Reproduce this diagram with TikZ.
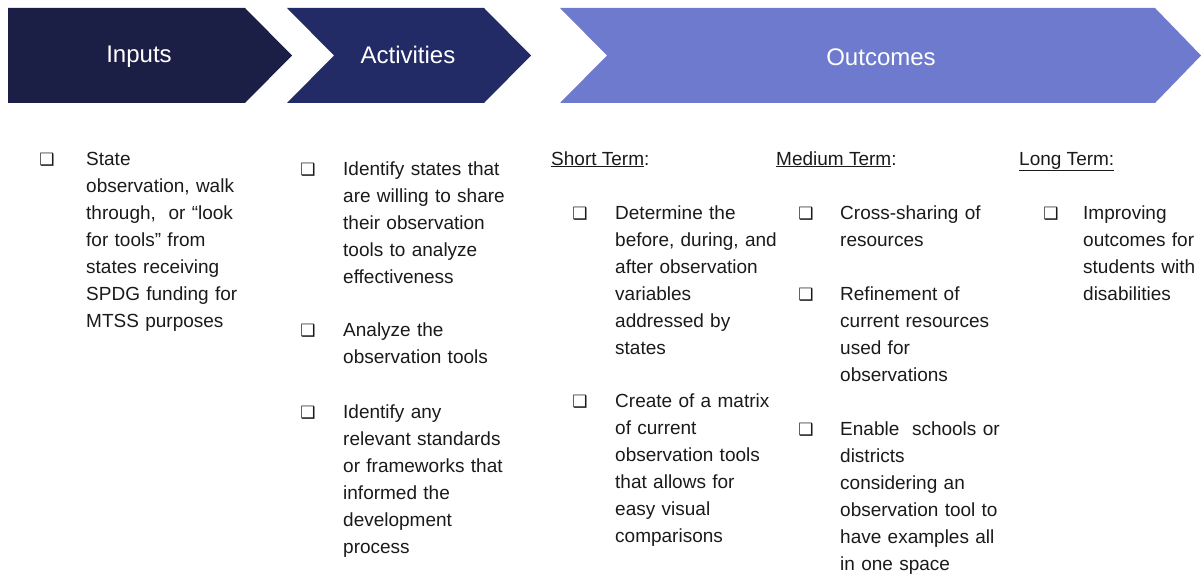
\documentclass[tikz,border=0pt]{standalone}
\usepackage{fontspec}
\setmainfont{Liberation Sans}
\newfontfamily\symfont{DejaVu Sans}
\usetikzlibrary{shapes}

\definecolor{inputcol}{RGB}{27,30,69}
\definecolor{actcol}{RGB}{35,43,102}
\definecolor{outcol}{RGB}{109,122,206}
\definecolor{inkcol}{RGB}{26,26,26}

\newcommand\titlefont{\fontsize{24}{28}\selectfont}
\newcommand\itemfont{\fontsize{19}{27}\selectfont}

\tikzstyle{head} = [text=white, font=\titlefont, inner sep=0pt]
\tikzstyle{item} = [anchor=base west, inner sep=0pt, text width=190pt, align=left, text=inkcol, font=\itemfont]
\tikzstyle{term} = [anchor=base west, inner sep=0pt, text=inkcol, font=\itemfont]
\tikzstyle{tick} = [anchor=base, inner sep=0pt, text=inkcol, font=\symfont\fontsize{17}{19}\selectfont]

\begin{document}
\begin{tikzpicture}[x=1pt,y=-1pt]
  \useasboundingbox (0,0) rectangle (1201,575);

  % chevrons along the top
  \fill[inputcol] (8,8) -- (245,8) -- (292,55.5) -- (245,103) -- (8,103) -- cycle;
  \fill[actcol] (287,8) -- (484,8) -- (531,55.5) -- (484,103) -- (287,103) -- (334,55.5) -- cycle;
  \fill[outcol] (560,8) -- (1155,8) -- (1201,55.5) -- (1155,103) -- (560,103) -- (607,55.5) -- cycle;
  \node[head] (inputs) at (139,57) {Inputs};
  \node[head] (activities) at (408,55) {Activities};
  \node[head] (outcomes) at (881,57) {Outcomes};

  % inputs
  \node[tick] (tin1) at (47,165) {❑};
  \node[item] (in1) at (86,165) {State\\observation, walk\\through,\ \ or “look\\for tools” from\\states receiving\\SPDG funding for\\MTSS purposes};

  % activities
  \node[tick] (tact1) at (308,175) {❑};
  \node[item] (act1) at (343,175) {Identify states that\\are willing to share\\their observation\\tools to analyze\\effectiveness};
  \node[tick] (tact2) at (308,336) {❑};
  \node[item] (act2) at (343,336) {Analyze the\\observation tools};
  \node[tick] (tact3) at (308,418) {❑};
  \node[item] (act3) at (343,418) {Identify any\\relevant standards\\or frameworks that\\informed the\\development\\process};

  % outcomes: short, medium, long term
  \node[term] (short) at (551,165) {\underline{Short Term}:};
  \node[term] (medium) at (776,165) {\underline{Medium Term}:};
  \node[term] (long) at (1019,165) {\underline{Long Term:}};

  \node[tick] (tsh1) at (580,219) {❑};
  \node[item] (sh1) at (615,219) {Determine the\\before, during, and\\after observation\\variables\\addressed by\\states};
  \node[tick] (tsh2) at (580,407) {❑};
  \node[item] (sh2) at (615,407) {Create of a matrix\\of current\\observation tools\\that allows for\\easy visual\\comparisons};

  \node[tick] (tmd1) at (806,219) {❑};
  \node[item] (md1) at (840,219) {Cross-sharing of\\resources};
  \node[tick] (tmd2) at (806,300) {❑};
  \node[item] (md2) at (840,300) {Refinement of\\current resources\\used for\\observations};
  \node[tick] (tmd3) at (806,435) {❑};
  \node[item] (md3) at (840,435) {Enable\ \ schools or\\districts\\considering an\\observation tool to\\have examples all\\in one space};

  \node[tick] (tlg1) at (1051,219) {❑};
  \node[item] (lg1) at (1083,219) {Improving\\outcomes for\\students with\\disabilities};
\end{tikzpicture}
\end{document}
